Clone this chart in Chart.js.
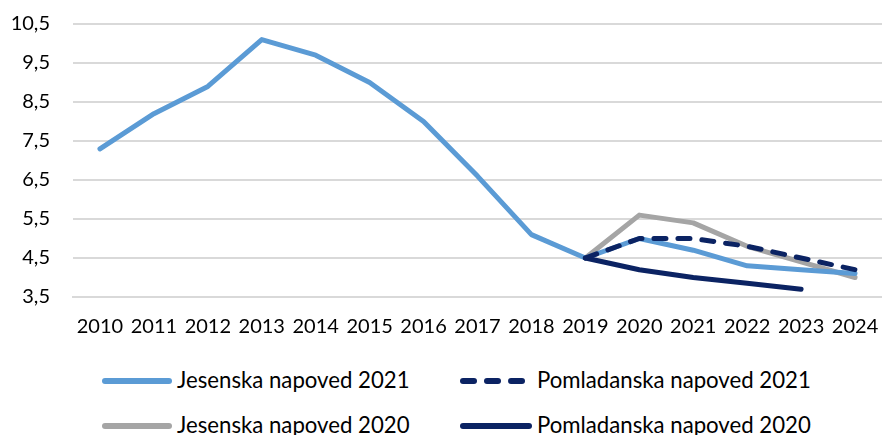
<!DOCTYPE html>
<html>
<head>
<meta charset="utf-8">
<script src="https://cdn.jsdelivr.net/npm/chart.js@4/dist/chart.umd.min.js"></script>
<style>
  html, body { margin: 0; padding: 0; background: #fff; }
  #wrap { position: relative; width: 882px; height: 435px; overflow: hidden; }
  #c { position: absolute; left: 0; top: 0; }
  .leg { position: absolute; font-family: Lato, "Open Sans", sans-serif; font-size: 22.2px; color: #000; white-space: nowrap; line-height: 26px; }
  .seg { position: absolute; height: 6px; border-radius: 3px; }
</style>
</head>
<body>
<div id="wrap">
  <canvas id="c" width="882" height="357"></canvas>
</div>
<script>
const years = ['2010','2011','2012','2013','2014','2015','2016','2017','2018','2019','2020','2021','2022','2023','2024'];
const jesenska2021 = [7.3, 8.2, 8.9, 10.1, 9.7, 9.0, 8.0, 6.6, 5.1, 4.5, 5.0, 4.7, 4.3, 4.2, 4.1];
const pomladanska2021 = [null, null, null, null, null, null, null, null, null, 4.5, 5.0, 5.0, 4.8, 4.5, 4.2];
const jesenska2020 = [null, null, null, null, null, null, null, null, null, 4.5, 5.6, 5.4, 4.8, 4.4, 4.0];
const pomladanska2020 = [null, null, null, null, null, null, null, null, null, 4.5, 4.2, 4.0, 3.85, 3.7, null];
const seriesNames = ['Jesenska napoved 2021', 'Pomladanska napoved 2021', 'Jesenska napoved 2020', 'Pomladanska napoved 2020'];
const colors = { light: '#5B9BD5', grey: '#A5A5A5', navy: '#0B2363' };

const fontFamily = 'Lato, "Open Sans", sans-serif';

new Chart(document.getElementById('c'), {
  type: 'line',
  data: {
    labels: years,
    datasets: [
      { label: seriesNames[2], data: jesenska2020, borderColor: colors.grey, borderWidth: 5, pointRadius: 0, borderCapStyle: 'round', borderJoinStyle: 'round', order: 3 },
      { label: seriesNames[0], data: jesenska2021, borderColor: colors.light, borderWidth: 5, pointRadius: 0, borderCapStyle: 'round', borderJoinStyle: 'round', order: 2 },
      { label: seriesNames[3], data: pomladanska2020, borderColor: colors.navy, borderWidth: 5, pointRadius: 0, borderCapStyle: 'round', borderJoinStyle: 'round', order: 1 },
      { label: seriesNames[1], data: pomladanska2021, borderColor: colors.navy, borderWidth: 5, borderDash: [12, 12], pointRadius: 0, borderCapStyle: 'round', borderJoinStyle: 'round', order: 0 }
    ]
  },
  options: {
    responsive: false,
    maintainAspectRatio: false,
    animation: false,
    layout: { padding: { top: 24, right: 0, left: 0, bottom: 0 } },
    plugins: { legend: { display: false }, tooltip: { enabled: false } },
    scales: {
      x: {
        offset: true,
        grid: { display: false, drawTicks: false },
        border: { display: true, color: '#D9D9D9', width: 2 },
        ticks: { color: '#000', font: { family: fontFamily, size: 20 }, padding: 18, maxRotation: 0, autoSkip: false },
        afterFit: s => { s.paddingRight = 0; s.paddingLeft = 0; s.height = 60; }
      },
      y: {
        min: 3.5, max: 10.5,
        grid: { color: '#D9D9D9', lineWidth: 2, drawTicks: false },
        border: { display: false },
        ticks: {
          stepSize: 1, color: '#000', padding: 23,
          font: { family: fontFamily, size: 20 },
          callback: v => v.toFixed(1).replace('.', ',')
        },
        afterFit: s => { s.width = 73; s.paddingTop = 0; s.paddingBottom = 0; }
      }
    }
  }
});

// HTML legend (2 x 2)
const legendItems = [
  { name: seriesNames[0], color: colors.light, dashed: false, x: 102, w: 70, tx: 177, y: 381 },
  { name: seriesNames[1], color: colors.navy, dashed: true, x: 460, w: 65, tx: 537, y: 381 },
  { name: seriesNames[2], color: colors.grey, dashed: false, x: 102, w: 70, tx: 177, y: 426 },
  { name: seriesNames[3], color: colors.navy, dashed: false, x: 460, w: 72, tx: 537, y: 426 }
];
const wrap = document.getElementById('wrap');
function seg(x, y, w, color) {
  const s = document.createElement('div');
  s.className = 'seg';
  s.style.left = x + 'px';
  s.style.top = (y - 3) + 'px';
  s.style.width = w + 'px';
  s.style.background = color;
  wrap.appendChild(s);
}
legendItems.forEach(it => {
  if (it.dashed) {
    for (let i = 0; i < 3; i++) seg(it.x + i * 24, it.y, 17, it.color);
  } else {
    seg(it.x, it.y, it.w, it.color);
  }
  const t = document.createElement('div');
  t.className = 'leg';
  t.textContent = it.name;
  t.style.left = it.tx + 'px';
  t.style.top = (it.y - 14) + 'px';
  wrap.appendChild(t);
});
</script>
</body>
</html>
